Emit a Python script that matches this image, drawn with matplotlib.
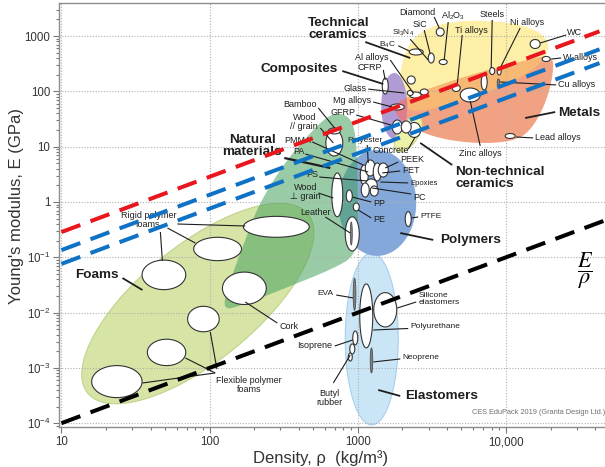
import numpy as np
import matplotlib
matplotlib.use("Agg")
import matplotlib.pyplot as plt
from matplotlib.patches import Polygon
from matplotlib.ticker import LogLocator, NullFormatter, FixedLocator, FixedFormatter

plt.rcParams["font.family"] = ["Liberation Sans", "DejaVu Sans"]
plt.rcParams["mathtext.fontset"] = "custom"
plt.rcParams["mathtext.rm"] = "Liberation Sans"
plt.rcParams["mathtext.it"] = "Liberation Sans:italic"
plt.rcParams["mathtext.bf"] = "Liberation Sans:bold"

# ---------------- data ----------------
# Guide lines of constant specific stiffness E/rho (GPa per kg/m^3)
guide_ratio = [0.0286, 0.0135, 0.0076, 1e-5]
guide_rho_end = [42700, 42700, 42700, 60000]

x_ticks = [10, 100, 1000, 10000]
x_tick_labels = ["10", "100", "1000", "10,000"]
y_ticks = [1e-4, 1e-3, 1e-2, 1e-1, 1, 10, 100, 1000]
y_tick_labels = ["$10^{-4}$", "$10^{-3}$", "$10^{-2}$", "$10^{-1}$",
                 "1", "10", "100", "1000"]

# Family envelopes: (rho_lo, rho_hi, E_lo, E_hi) boxes
elastomer_box = (822, 1873, 9.3e-5, 0.12)
polymer_box = (738, 2476, 0.106, 8.71)
composite_box = (1438, 2153, 13.8, 215)
# Tilted envelopes: centre (rho, E) and two semi-axes in decades
foam_centre = (83.2, 0.0146)
foam_axes = [(0.743, 1.620), (0.247, -0.814)]
nontech_centre = (2187, 17.0)
nontech_axes = [(0.0742, 0.3074), (0.0566, -0.0976)]
# Outlined envelopes (rho, E) vertices
natural_rho = [122, 134, 169, 213, 319, 463, 612, 761, 946, 991, 1006, 991, 652, 300, 161]
natural_E = [0.0111, 0.0316, 0.167, 0.883, 5.07, 16.3, 34.4, 42.4, 28.0, 5.75, 0.582, 0.110, 0.0589, 0.0256, 0.0132]
metal_rho = [1733, 3077, 6690, 12450, 20780, 20780, 18640, 15230, 12070, 7230, 3886, 2438, 1844]
metal_E = [61.7, 115, 224, 340, 475, 198, 64.3, 22.7, 13.2, 11.2, 13.2, 20.0, 33.0]
ceramic_rho = [1902, 1961, 2363, 3596, 6690, 12450, 18350, 19830, 15720, 8444, 4539, 2635, 2024]
ceramic_E = [97.5, 340, 1004, 1726, 1955, 1655, 1047, 561, 244, 106, 61.7, 42.4, 50.1]

# Material bubbles: (rho_lo, rho_hi, E_lo, E_hi)
foam_bubbles = [(16, 35, 2.9e-4, 1.1e-3), (38, 69, 1.1e-3, 3.3e-3),
                (71, 116, 4.5e-3, 0.013), (35, 69, 0.026, 0.089),
                (78, 164, 0.087, 0.23), (169, 470, 0.23, 0.55),
                (122, 241, 0.014, 0.054)]
elastomer_bubbles = [(1030, 1260, 2.3e-3, 0.033), (1280, 1830, 5.5e-3, 0.023),
                     (924, 998, 2.6e-3, 4.65e-3), (882, 953, 1.78e-3, 2.71e-3),
                     (862, 917, 1.33e-3, 1.86e-3)]
elastomer_thin = [(930, 970, 0.011, 0.042), (1212, 1260, 8.1e-4, 2.29e-3)]
natural_bubbles = [(608, 791, 6.8, 20), (632, 761, 17, 21.8),
                   (667, 791, 0.54, 3.35), (822, 1022, 0.13, 0.54)]
natural_thin = [(889, 917, 0.167, 0.435)]
polymer_bubbles = [(835, 917, 1.0, 1.65), (931, 1022, 0.69, 0.96),
                   (2087, 2291, 0.36, 0.67), (1038, 1175, 2.03, 4.67),
                   (1122, 1310, 2.95, 5.75), (1270, 1438, 2.40, 5.07),
                   (1372, 1603, 2.83, 5.07), (1122, 1351, 1.58, 2.61),
                   (1054, 1193, 1.23, 2.21), (1212, 1372, 1.28, 1.95)]
ceramic_bubbles = [(3380, 3824, 1004, 1401), (14540, 16980, 597, 868),
                   (3540, 4007, 306, 378), (2984, 3275, 326, 494),
                   (2222, 2761, 455, 585), (2153, 2438, 136, 190)]
metal_bubbles = [(4331, 4903, 99.6, 133), (6796, 7456, 106, 206),
                 (7752, 8379, 202, 270), (8710, 9268, 198, 276),
                 (4903, 6690, 64.3, 115), (17520, 19830, 347, 428),
                 (9863, 11520, 14.1, 17.3), (2222, 2676, 76, 97.5),
                 (2635, 2984, 86, 110.5), (1654, 2056, 46.1, 59.2)]
metal_thin = [(8710, 9057, 125, 168)]
composite_bubbles = [(2153, 2363, 84.3, 103.8), (1461, 1603, 89.7, 174.7),
                     (1706, 1992, 17.0, 30.4), (2170, 2655, 14.7, 27.4),
                     (1961, 2291, 17.7, 29.2)]


# ---------------- helpers ----------------
def box_ellipse(box, n=120):
    rlo, rhi, elo, ehi = box
    cx, cy = (np.log10(rlo) + np.log10(rhi)) / 2, (np.log10(elo) + np.log10(ehi)) / 2
    ax_, ay_ = (np.log10(rhi) - np.log10(rlo)) / 2, (np.log10(ehi) - np.log10(elo)) / 2
    t = np.linspace(0, 2 * np.pi, n)
    return np.column_stack([10 ** (cx + ax_ * np.cos(t)), 10 ** (cy + ay_ * np.sin(t))])


def vec_ellipse(centre, axes_, n=160):
    t = np.linspace(0, 2 * np.pi, n)
    (a0, a1), (b0, b1) = axes_
    lx = np.log10(centre[0]) + a0 * np.cos(t) + b0 * np.sin(t)
    ly = np.log10(centre[1]) + a1 * np.cos(t) + b1 * np.sin(t)
    return np.column_stack([10 ** lx, 10 ** ly])


def smooth_outline(rho, E, passes=4):
    P = np.column_stack([np.log10(rho), np.log10(E)])
    for _ in range(passes):
        Q = np.roll(P, -1, axis=0)
        R = np.empty((2 * len(P), 2))
        R[0::2] = 0.75 * P + 0.25 * Q
        R[1::2] = 0.25 * P + 0.75 * Q
        P = R
    return 10 ** P


fig = plt.figure(figsize=(6.05, 4.67), dpi=100)
ax = fig.add_axes([0.0983, 0.0857, 0.9017, 0.9079])
ax.set_xscale("log")
ax.set_yscale("log")
ax.set_xlim(9.7, 46500)
ax.set_ylim(8.54e-5, 3970)


def region(pts, fc, ec="none", alpha=1.0, z=1.0, lw=0.8):
    p = Polygon(pts, closed=True, facecolor=fc, edgecolor=ec, alpha=alpha,
                lw=lw, zorder=z, transform=ax.transData)
    ax.add_patch(p)
    return p


# Family envelopes
region(vec_ellipse(foam_centre, foam_axes), "#d6e4a6", ec="#c0d38c", z=1.0)
region(box_ellipse(elastomer_box), "#c9e5f6", ec="#a9d0ec", z=1.0)
region(box_ellipse(polymer_box), "#84a8da", z=1.05)
region(smooth_outline(natural_rho, natural_E), (0.27, 0.63, 0.37), alpha=0.55, z=1.1)
cer_pts = smooth_outline(ceramic_rho, ceramic_E)
region(cer_pts, "#fdefa6", z=1.0)
met = region(smooth_outline(metal_rho, metal_E), "#f1a283", z=1.05)
ov = region(cer_pts, "#f6b873", z=1.1)
ov.set_clip_path(met)
comp_pts = box_ellipse(composite_box)
region(comp_pts, "#b09bd5", z=1.2)
ov2 = region(comp_pts, "#e07d8b", z=1.25)
ov2.set_clip_path(met)
region(vec_ellipse(nontech_centre, nontech_axes), "#eef2a6", ec="#d2d784", z=1.3)

# Grid above the envelopes
for xv in x_ticks:
    ax.axvline(xv, color="#b0b0b0", lw=0.8, ls=(0, (1, 1.5)), zorder=1.5)
for yv in y_ticks:
    ax.axhline(yv, color="#b0b0b0", lw=0.8, ls=(0, (1, 1.5)), zorder=1.5)

# Material bubbles
for group in (foam_bubbles, elastomer_bubbles, natural_bubbles, polymer_bubbles,
              ceramic_bubbles, metal_bubbles, composite_bubbles):
    for b in group:
        region(box_ellipse(b), "white", ec="#333333", z=2, lw=0.8)
for group in (elastomer_thin, natural_thin, metal_thin):
    for b in group:
        region(box_ellipse(b), "#808080", ec="#505050", z=2.1, lw=0.6)


def lab(text, rho, E, ha="center", size=6.5, bold=False, leaders=(), lw=0.8, ma=None):
    ax.text(rho, E, text, ha=ha, va="center", fontsize=size,
            fontweight="bold" if bold else "normal", color="#1e1e1e",
            zorder=4, linespacing=1.0, multialignment=ma or ha)
    for (r1, e1), (r2, e2) in leaders:
        ax.plot([r1, r2], [e1, e2], color="#1e1e1e", lw=lw, zorder=3,
                solid_capstyle="butt")


# Family names
lab("Foams", 12.4, 0.0478, ha="left", size=9.7, bold=True, lw=1.3,
    leaders=[((25.8, 0.0422), (35.2, 0.0256))])
lab("Natural\nmaterials", 194, 10.1, size=9.7, bold=True, lw=1.6,
    leaders=[((319, 6.25), (652, 4.12))])
lab("Polymers", 3596, 0.206, ha="left", size=9.7, bold=True, lw=1.3,
    leaders=[((1932, 0.275), (3225, 0.206))])
lab("Elastomers", 2087, 3.1e-4, ha="left", size=9.7, bold=True, lw=1.3,
    leaders=[((1372, 3.99e-4), (1932, 3.1e-4))])
lab("Metals", 22460, 40.7, ha="left", size=9.7, bold=True, lw=1.3,
    leaders=[((13460, 33), (21440, 42.4))])
lab("Technical\nceramics", 463, 1372, ha="left", size=9.7, bold=True, lw=1.3,
    leaders=[((1122, 782), (2256, 402))])
lab("Composites", 220, 254, ha="left", size=9.7, bold=True, lw=1.3,
    leaders=[((785, 234), (1484, 136))])
lab("Non-technical\nceramics", 4539, 2.77, ha="left", size=9.7, bold=True, lw=1.3,
    leaders=[((4331, 4.67), (2635, 11.7))])

# Foams and elastomers
lab("Rigid polymer\nfoams", 38.6, 0.463,
    leaders=[((46.5, 0.287), (48.0, 0.0857)), ((51.9, 0.339), (80.1, 0.181)),
             ((60.6, 0.40), (174, 0.368))])
lab("Flexible polymer\nfoams", 185, 5.0e-4,
    leaders=[((109, 8.1e-4), (35.2, 5.33e-4)), ((109, 8.1e-4), (68.6, 1.51e-3)),
             ((112, 9.5e-4), (101, 4.46e-3))])
lab("Cork", 345, 5.49e-3, leaders=[((286, 6.48e-3), (174, 0.01555))])
lab("EVA", 683, 0.0226, ha="right", size=6, leaders=[((714, 0.0208), (931, 0.0184))])
lab("Isoprene", 668, 2.59e-3, ha="right", leaders=[((698, 2.49e-3), (924, 3.2e-3))])
lab("Butyl\nrubber", 642, 2.86e-4, leaders=[((683, 5.33e-4), (889, 1.71e-3))])
lab("Silicone\nelastomers", 2554, 0.0176, ha="left", size=6,
    leaders=[((2476, 0.01555), (1844, 0.0121))])
lab("Polyurethane", 2256, 5.49e-3, ha="left", size=6,
    leaders=[((2187, 5.16e-3), (1270, 4.84e-3))])
lab("Neoprene", 1992, 1.51e-3, ha="left", size=6,
    leaders=[((1932, 1.45e-3), (1270, 1.28e-3))])

# Natural materials and polymers
lab("Bamboo", 409, 56.8, leaders=[((541, 50.1), (715, 20.0))])
lab("Wood\n// grain", 435, 28.0, leaders=[((558, 21.8), (683, 11.7))])
lab("PMMA", 396, 13.2, leaders=[((492, 12.2), (1088, 4.67))])
lab("PA", 403, 8.02, leaders=[((442, 7.38), (1175, 3.49))])
lab("PS", 492, 3.08, leaders=[((549, 2.83), (1157, 2.40))])
lab("Wood\n\u22a5 grain", 442, 1.49, leaders=[((541, 1.455), (683, 1.18))])
lab("Leather", 516, 0.659, leaders=[((603, 0.536), (889, 0.275))])
lab("Polyester", 1122, 13.2, size=6, leaders=[((1157, 10.7), (1175, 5.07))])
lab("Concrete", 1654, 8.36, leaders=[((2187, 9.09), (2438, 14.98))])
lab("PEEK", 1932, 5.75, ha="left", leaders=[((1873, 5.29), (1530, 4.12))])
lab("PET", 1992, 3.64, ha="left", leaders=[((1932, 3.64), (1461, 3.35))])
lab("Epoxies", 2256, 2.12, ha="left", size=5.5, leaders=[((2187, 2.21), (1416, 2.30))])
lab("PC", 2363, 1.23, ha="left", leaders=[((2291, 1.395), (1250, 1.79))])
lab("PP", 1270, 0.959, ha="left", leaders=[((1231, 1.0), (917, 1.23))])
lab("PE", 1270, 0.473, ha="left", leaders=[((1231, 0.514), (1006, 0.717))])
lab("PTFE", 2635, 0.558, ha="left", size=6, leaders=[((2554, 0.536), (2291, 0.514))])

# Ceramics, metals and composites
lab("Diamond", 2515, 2617, leaders=[((3275, 2215), (3540, 1401))])
lab("SiC", 2635, 1588, leaders=[((2803, 1289), (3077, 475))])
lab("Si$_3$N$_4$", 2020, 1160, size=6, leaders=[((2256, 880), (2984, 370))])
lab("B$_4$C", 1580, 700, size=6, leaders=[((1873, 670), (2222, 538))])
lab("Al$_2$O$_3$", 4398, 2309, leaders=[((4069, 1799), (3824, 370))])
lab("Ti alloys", 5817, 1289, leaders=[((5058, 1047), (4681, 131))])
lab("Steels", 8060, 2408, leaders=[((8060, 1955), (7935, 265))])
lab("Ni alloys", 13880, 1726, leaders=[((12450, 1401), (9126, 265))])
lab("WC", 25820, 1138, ha="left", leaders=[((25420, 1047), (16980, 750))])
lab("W alloys", 24270, 402, ha="left", leaders=[((23530, 402), (20150, 385))])
lab("Cu alloys", 22460, 131, ha="left", leaders=[((21770, 131), (9126, 148))])
lab("Lead alloys", 15710, 14.4, ha="left", leaders=[((15230, 14.4), (11700, 14.98))])
lab("Zinc alloys", 6690, 7.69, leaders=[((6690, 10.3), (5728, 67.1))])
lab("Al alloys", 1250, 402, leaders=[((1654, 370), (2363, 93.6))])
lab("CFRP", 1212, 276, leaders=[((1484, 244), (1530, 161))])
lab("Glass", 960, 115, leaders=[((1175, 110), (2056, 93.6))])
lab("Mg alloys", 917, 67.1, leaders=[((1270, 64.3), (1706, 52.2))])
lab("GFRP", 797, 40.7, leaders=[((975, 37.4), (1759, 23.7))])

# Guide lines of constant E/rho
guide_colors = ["#e8161d", "#0f72c4", "#0f72c4", "#000000"]
for ratio, rend, col in zip(guide_ratio, guide_rho_end, guide_colors):
    rho = np.array([10.0, rend])
    ax.plot(rho, ratio * rho, color=col, lw=2.9, dashes=(5, 2.7),
            dash_capstyle="butt", zorder=5)

ax.text(34150, 0.0565, r"$\dfrac{E}{\rho}$", fontsize=16, math_fontfamily="stix",
        ha="center", va="center", color="black", zorder=6)
ax.text(5906, 1.53e-4, "CES EduPack 2019 (Granta Design Ltd.)", fontsize=5.3,
        color="#707070", ha="left", va="center", zorder=4)

# Axes styling
ax.xaxis.set_major_locator(FixedLocator(x_ticks))
ax.xaxis.set_major_formatter(FixedFormatter(x_tick_labels))
ax.yaxis.set_major_locator(FixedLocator(y_ticks))
ax.yaxis.set_major_formatter(FixedFormatter(y_tick_labels))
ax.xaxis.set_minor_locator(LogLocator(base=10, subs=np.arange(2, 10), numticks=100))
ax.yaxis.set_minor_locator(LogLocator(base=10, subs=np.arange(2, 10), numticks=100))
ax.xaxis.set_minor_formatter(NullFormatter())
ax.yaxis.set_minor_formatter(NullFormatter())
ax.tick_params(which="both", direction="out", color="#777777", width=0.8,
               labelsize=8.3, labelcolor="#333333", top=False, right=False)
ax.tick_params(which="major", length=4, pad=2.5)
ax.tick_params(which="minor", length=2.5)
for side in ("left", "bottom", "top"):
    ax.spines[side].set_color("#8c8c8c")
    ax.spines[side].set_linewidth(1.0)
ax.spines["right"].set_visible(False)

fig.text(321 / 605, 1 - 458 / 467, "Density, \u03c1  (kg/m\u00b3)", fontsize=12,
         color="#333333", ha="center", va="center")
fig.text(17 / 605, 1 - 206 / 467, "Young's modulus, E (GPa)", fontsize=12,
         color="#333333", ha="center", va="center", rotation=90)

fig.savefig("out.png", dpi=100)
